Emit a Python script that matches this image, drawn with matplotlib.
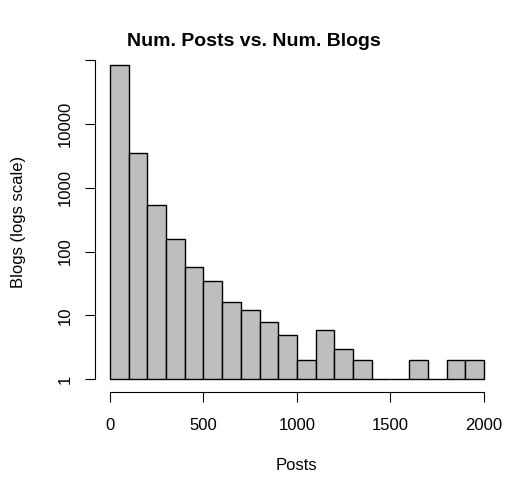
import matplotlib
matplotlib.use("Agg")
import matplotlib.pyplot as plt
import numpy as np

plt.rcParams['font.family'] = ['Liberation Sans', 'DejaVu Sans']

bin_edges = np.arange(0, 2001, 100)
blogs = [85000, 3500, 530, 160, 58, 34, 16, 12, 8, 5,
         2, 6, 3, 2, 1, 1, 2, 1, 2, 2]
y_ticks = [1, 10, 100, 1000, 10000, 100000]
y_labels = ['1', '10', '100', '1000', '10000', '']
x_ticks = [0, 500, 1000, 1500, 2000]

fig = plt.figure(figsize=(5.08, 4.8), dpi=100)
ax = fig.add_axes([0.187, 0.184, 0.795, 0.707])

left = bin_edges[:-1]
heights = [b - 1 for b in blogs]
ax.bar(left, heights, width=100, bottom=1, align='edge',
       color='#BEBEBE', edgecolor='black', linewidth=1.0)

ax.set_yscale('log')
ax.set_xlim(-80, 2080)
lo, hi = 0, np.log10(max(blogs))
pad = 0.04 * (hi - lo)
ax.set_ylim(10 ** (lo - pad), 10 ** (hi + pad))

ax.set_yticks(y_ticks)
ax.set_yticklabels(y_labels, rotation=90, va='center')
ax.minorticks_off()
ax.set_xticks(x_ticks)
ax.set_xticklabels([str(t) for t in x_ticks])

for s in ['top', 'right']:
    ax.spines[s].set_visible(False)
ax.spines['left'].set_bounds(1, 100000)
ax.spines['bottom'].set_bounds(0, 2000)
ax.tick_params(direction='out', length=7, width=0.8, labelsize=12)
ax.tick_params(axis='x', pad=12)
ax.tick_params(axis='y', pad=9)

ax.set_xlabel('Posts', fontsize=12, labelpad=18)
ax.set_ylabel('Blogs (logs scale)', fontsize=12, labelpad=23)
fig.text(0.5, 0.914, 'Num. Posts vs. Num. Blogs', ha='center', va='center',
         fontsize=14, fontweight='bold')

fig.savefig('out.png', dpi=100)
